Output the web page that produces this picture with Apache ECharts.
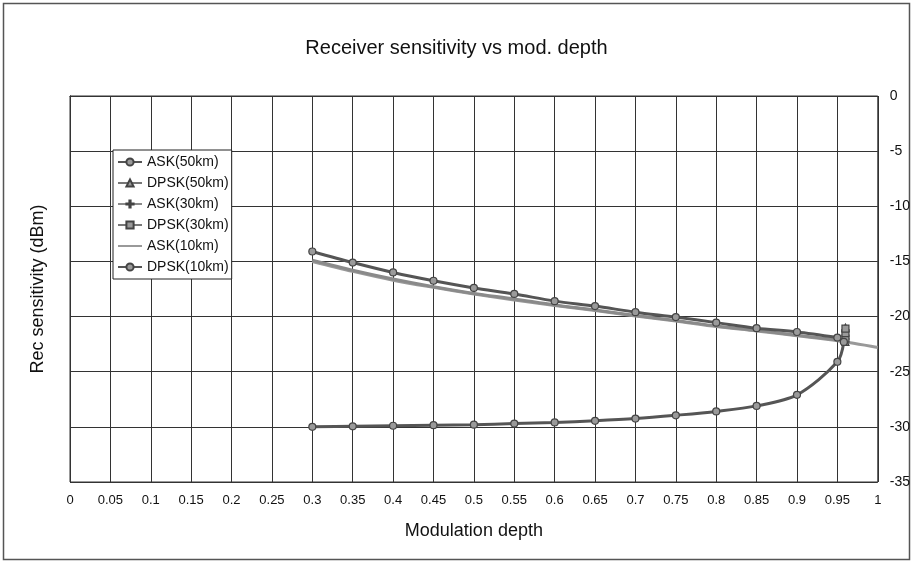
<!DOCTYPE html>
<html>
<head>
<meta charset="utf-8">
<script src="https://cdn.jsdelivr.net/npm/echarts@6/dist/echarts.min.js"></script>
<style>html,body{margin:0;padding:0;background:#fff}#c{width:913px;height:563px}</style>
</head>
<body>
<div id="c"></div>
<script>
var titleText = 'Receiver sensitivity vs mod. depth';
var xName = 'Modulation depth';
var yName = 'Rec sensitivity (dBm)';
var seriesNames = ['ASK(50km)','DPSK(50km)','ASK(30km)','DPSK(30km)','ASK(10km)','DPSK(10km)'];
var xUpper = [0.3,0.35,0.4,0.45,0.5,0.55,0.6,0.65,0.7,0.75,0.8,0.85,0.9,0.95];
var xLong = [0.3,0.35,0.4,0.45,0.5,0.55,0.6,0.65,0.7,0.75,0.8,0.85,0.9,0.95,1.0];
var xLower = [0.3,0.35,0.4,0.45,0.5,0.55,0.6,0.65,0.7,0.75,0.8,0.85,0.9,0.95,0.958];
var xTip = [0.96,0.96,0.96];
var ask50 = [-14.1,-15.1,-16.0,-16.75,-17.4,-17.95,-18.6,-19.05,-19.6,-20.05,-20.55,-21.05,-21.4,-21.9];
var ask30 = [-14.9,-15.8,-16.6,-17.3,-17.9,-18.4,-18.95,-19.4,-19.9,-20.35,-20.85,-21.25,-21.7,-22.1];
var ask10 = [-15.0,-15.9,-16.7,-17.35,-17.95,-18.5,-19.0,-19.45,-19.95,-20.4,-20.9,-21.3,-21.75,-22.2,-22.8];
var dpsk10 = [-30.0,-29.95,-29.9,-29.85,-29.8,-29.7,-29.6,-29.45,-29.25,-28.95,-28.6,-28.1,-27.1,-24.1,-22.3];
var dpsk50 = [-22.3,-21.7,-21.0];
var dpsk30 = [-22.0,-21.5,-21.1];

function pairs(xs, ys){ return ys.map(function(y,i){ return [xs[i], y]; }); }

var chart = echarts.init(document.getElementById('c'));
var font = 'Liberation Sans, Arial, sans-serif';
var crossPath = 'path://M5,0L7,0L7,5L12,5L12,7L7,7L7,12L5,12L5,7L0,7L0,5L5,5Z';
function mk(name, xs, ys, symbol, color, showSym, smooth, z){
  return {
    name: name, type: 'line', data: pairs(xs, ys), smooth: smooth,
    symbol: symbol, symbolSize: 7, showSymbol: showSym, z: z,
    lineStyle: {color: color, width: 3},
    itemStyle: {color: '#9a9a9a', borderColor: '#444', borderWidth: 1.2},
    animation: false
  };
}
var legendData = seriesNames.map(function(n){
  if (n === 'ASK(10km)') {
    return {name: n, itemStyle: {color: 'rgba(0,0,0,0)', borderColor: 'rgba(0,0,0,0)', opacity: 0}};
  }
  return {name: n};
});
chart.setOption({
  animation: false,
  backgroundColor: '#fff',
  textStyle: {fontFamily: font},
  title: {text: titleText, left: 'center', top: 33,
    textStyle: {fontFamily: font, fontSize: 20, fontWeight: 'normal', color: '#111'}},
  grid: {left: 70, right: 35, top: 96, bottom: 81, show: true, borderColor: '#333', borderWidth: 1},
  legend: {
    orient: 'vertical', left: 113, top: 150, itemGap: 7, itemWidth: 24, itemHeight: 9,
    backgroundColor: '#fff', borderColor: '#222', borderWidth: 1, padding: [5, 3, 5, 4],
    data: legendData,
    textStyle: {fontFamily: font, fontSize: 14, color: '#111'}
  },
  xAxis: {type: 'value', min: 0, max: 1, interval: 0.05,
    name: xName, nameLocation: 'middle', nameGap: 40,
    nameTextStyle: {fontFamily: font, fontSize: 18, color: '#111'},
    axisLine: {lineStyle: {color: '#333'}}, axisTick: {show: false},
    axisLabel: {fontFamily: font, fontSize: 13, color: '#111', margin: 12},
    splitLine: {show: true, lineStyle: {color: '#333', width: 1}}},
  yAxis: [{type: 'value', min: -35, max: 0, interval: 5, position: 'right',
    axisLine: {show: true, lineStyle: {color: '#333'}}, axisTick: {show: false},
    axisLabel: {fontFamily: font, fontSize: 14, color: '#111', margin: 12},
    splitLine: {show: true, lineStyle: {color: '#333', width: 1}}},
   {type: 'value', min: -35, max: 0, interval: 5, position: 'left',
    name: yName, nameLocation: 'middle', nameGap: 23,
    nameTextStyle: {fontFamily: font, fontSize: 18, color: '#111'},
    axisLine: {show: true, lineStyle: {color: '#333'}}, axisTick: {show: false},
    axisLabel: {show: false}, splitLine: {show: false}}],
  graphic: [{type: 'rect', shape: {x: 3.5, y: 3.5, width: 906, height: 556},
    style: {fill: 'none', stroke: '#555', lineWidth: 1.5}, silent: true}],
  series: [
    mk(seriesNames[0], xUpper, ask50, 'circle', '#555', true, 0.3, 5),
    mk(seriesNames[1], xTip, dpsk50, 'triangle', '#777', true, false, 4),
    mk(seriesNames[2], xUpper, ask30, crossPath, '#8a8a8a', false, 0.3, 3),
    mk(seriesNames[3], xTip, dpsk30, 'rect', '#777', true, false, 4),
    mk(seriesNames[4], xLong, ask10, 'none', '#999', false, 0.3, 2),
    mk(seriesNames[5], xLower, dpsk10, 'circle', '#555', true, 0.3, 5)
  ]
});
</script>
</body>
</html>
